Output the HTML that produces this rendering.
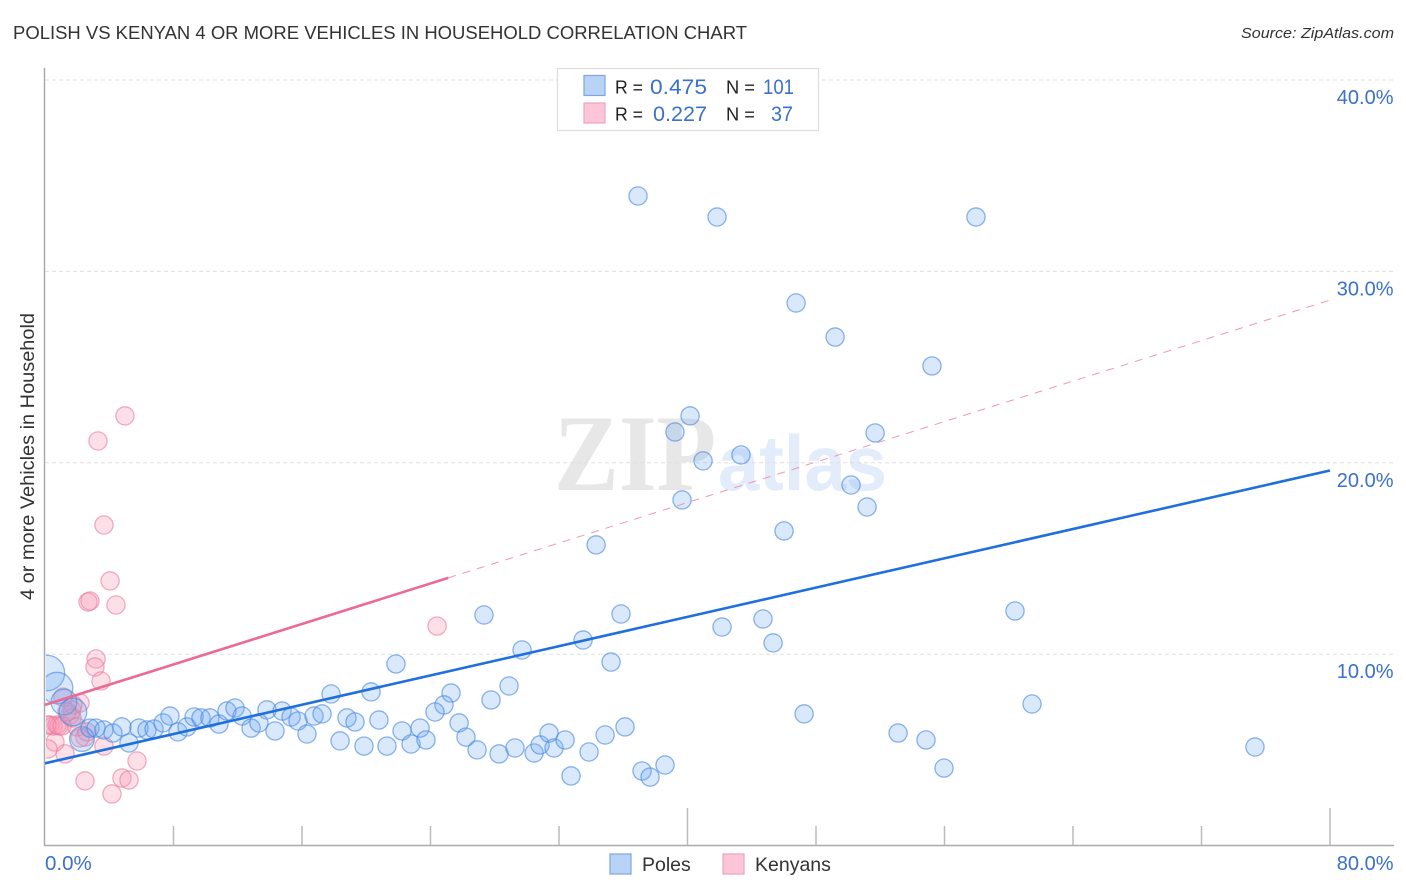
<!DOCTYPE html>
<html lang="en">
<head>
<meta charset="utf-8">
<title>Polish vs Kenyan 4 or More Vehicles in Household Correlation Chart</title>
<style>
html,body{margin:0;padding:0;background:#fff;}
svg{display:block;font-family:"Liberation Sans",sans-serif;}
</style>
</head>
<body>
<svg id="chart" width="1406" height="892" viewBox="0 0 1406 892" xmlns="http://www.w3.org/2000/svg">
  <defs>
    <clipPath id="plot-clip"><rect x="46" y="60" width="1348" height="785"></rect></clipPath>
    <filter id="soft" x="-5%" y="-5%" width="110%" height="110%"><feGaussianBlur stdDeviation="0.35"></feGaussianBlur></filter>
  </defs>
  <text x="13" y="39" font-size="18.5" fill="#333" textLength="734" lengthAdjust="spacingAndGlyphs">POLISH VS KENYAN 4 OR MORE VEHICLES IN HOUSEHOLD CORRELATION CHART</text>
  <text x="1394" y="38" font-size="15" font-style="italic" fill="#333" text-anchor="end" textLength="153" lengthAdjust="spacingAndGlyphs">Source: ZipAtlas.com</text>

  <g>
    <text x="554" y="490" font-family="'Liberation Serif',serif" font-weight="bold" font-size="109" fill="#e7e7e7" textLength="162" lengthAdjust="spacingAndGlyphs">ZIP</text>
    <text x="718" y="490" font-size="78" font-weight="bold" fill="#e2ecfa" textLength="169" lengthAdjust="spacingAndGlyphs">atlas</text>
  </g>

  <g id="grid"></g>
  <g id="axes"></g>
  <g id="points" clip-path="url(#plot-clip)" filter="url(#soft)"></g>
  <g id="trends"></g>
  <g id="labels"></g>

  <text transform="translate(34,456.5) rotate(-90)" font-size="19.5" fill="#333" text-anchor="middle" textLength="287" lengthAdjust="spacingAndGlyphs">4 or more Vehicles in Household</text>

  <g>
    <rect x="557.5" y="68.5" width="261" height="62" fill="#fff" stroke="#ddd" stroke-width="1.2"></rect>
    <rect x="584" y="75.5" width="21" height="20" fill="#b9d3f7" stroke="#7da6e3" stroke-width="1.2"></rect>
    <rect x="584" y="103" width="21" height="20" fill="#fcc6d8" stroke="#f0a3bb" stroke-width="1.2"></rect>
    <text x="615" y="93.5" font-size="18.5" fill="#222" textLength="28" lengthAdjust="spacingAndGlyphs">R =</text>
    <text x="650" y="94" font-size="21.5" fill="#3b70cc" textLength="57" lengthAdjust="spacingAndGlyphs">0.475</text>
    <text x="726" y="93.5" font-size="18.5" fill="#222" textLength="29" lengthAdjust="spacingAndGlyphs">N =</text>
    <text x="763" y="94" font-size="21.5" fill="#3b70cc" textLength="31" lengthAdjust="spacingAndGlyphs">101</text>
    <text x="615" y="120.5" font-size="18.5" fill="#222" textLength="28" lengthAdjust="spacingAndGlyphs">R =</text>
    <text x="653" y="121" font-size="21.5" fill="#3b70cc" textLength="54" lengthAdjust="spacingAndGlyphs">0.227</text>
    <text x="726" y="120.5" font-size="18.5" fill="#222" textLength="29" lengthAdjust="spacingAndGlyphs">N =</text>
    <text x="771" y="121" font-size="21.5" fill="#3b70cc" textLength="22" lengthAdjust="spacingAndGlyphs">37</text>
  </g>

  <g>
    <rect x="610" y="854" width="21" height="20" fill="#b9d3f7" stroke="#7da6e3" stroke-width="1.2"></rect>
    <text x="642" y="871" font-size="19.5" fill="#333">Poles</text>
    <rect x="723" y="854" width="21" height="20" fill="#fcc6d8" stroke="#f0a3bb" stroke-width="1.2"></rect>
    <text x="755" y="871" font-size="19.5" fill="#333">Kenyans</text>
  </g>
</svg>
<script>
const xTickValues = [0, 8, 16, 24, 32, 40, 48, 56, 64, 72, 80];
const majorXTicks = [40, 80];
const xEdgeLabels = ["0.0%", "80.0%"];
const yTickValues = [10, 20, 30, 40];
const yTickLabels = ["10.0%", "20.0%", "30.0%", "40.0%"];

const polesX = [0.12,0.75,1.18,1.74,2.30,2.80,3.18,3.67,4.23,4.79,5.23,5.85,6.35,6.79,
7.35,7.78,8.28,8.84,9.28,9.71,10.27,10.83,11.33,11.83,12.27,12.83,13.32,13.82,14.32,14.76,15.32,15.75,16.31,16.75,17.25,17.81,18.80,19.30,
36.92,41.84,57.96,46.76,49.19,55.22,40.16,39.22,51.68,43.33,40.97,50.18,39.66,51.18,46.01,34.31,27.33,35.86,60.39,42.15,44.70,33.50,45.33,29.70,35.24,21.85,47.26,61.45,53.11,54.85,55.97,75.33,
28.89,27.77,25.28,24.84,24.28,20.30,20.79,18.37,19.86,21.29,22.23,23.35,22.79,23.72,25.78,26.21,26.90,28.27,29.26,30.45,30.82,31.38,31.69,32.38,32.75,33.87,34.87,36.11,37.17,37.67,38.60];
const polesY = [9.02,8.23,7.50,6.98,5.57,6.14,6.14,6.04,5.88,6.20,5.36,6.14,6.04,6.09,
6.41,6.77,5.94,6.20,6.72,6.67,6.67,6.35,7.03,7.19,6.77,6.14,6.41,7.09,5.99,7.03,6.72,6.51,5.83,6.77,6.88,7.92,6.67,6.46,
33.94,32.84,32.84,28.35,26.57,25.06,22.45,21.61,21.56,20.41,20.10,18.84,18.06,17.69,16.44,15.71,12.05,12.10,12.26,11.42,11.84,10.74,10.59,10.22,9.59,9.49,6.88,7.40,5.88,5.52,4.05,5.15,
8.34,7.61,7.97,7.35,6.98,8.03,6.56,5.47,5.20,5.20,5.99,6.14,5.31,5.52,6.41,5.67,5.00,4.79,5.10,4.84,5.26,5.88,5.10,5.52,3.64,4.89,5.78,6.20,3.90,3.58,4.21];
const polesWeight = [3.8,3.0,2.0,2.3,1.85];

const kenyansX = [4.98,3.30,3.67,4.05,2.68,2.80,4.42,24.41,3.18,3.11,3.49,2.49,4.79,5.23,4.17,5.73,3.67,1.25,0.62,0.19,0.31,0.50,0.75,0.87,1.68,1.56,2.18,1.68,1.12,1.74,1.37,1.99,2.49,2.18,2.61,0.12,1.06];
const kenyansY = [22.45,21.14,16.75,13.83,12.73,12.78,12.57,11.47,9.75,9.33,8.60,3.38,3.53,3.43,2.70,4.42,5.20,4.79,5.41,5.05,6.30,6.25,6.30,6.25,7.09,6.82,7.45,6.67,7.76,7.35,6.98,6.20,5.67,5.62,5.94,6.30,6.25];

const polesTrend = [4.3, 19.6];
const kenyansTrend = [7.35, 28.5];
const trendDomain = [0, 80];
const kenyansSolidEnd = 25.1;

const SVG_NS = "http://www.w3.org/2000/svg";
const xScale = v => 45 + v * (1330 - 45) / 80;
const yScale = v => 845.6 - v * (845.6 - 80) / 40;
const trendAt = (t, x) => t[0] + (t[1] - t[0]) * (x - trendDomain[0]) / (trendDomain[1] - trendDomain[0]);

function make(tag, parentId, attrs) {
  const el = document.createElementNS(SVG_NS, tag);
  for (const k in attrs) el.setAttribute(k, attrs[k]);
  document.getElementById(parentId).appendChild(el);
  return el;
}

yTickValues.forEach(v => {
  const el = make("line", "grid", {x1: 45, x2: 1394, y1: yScale(v), y2: yScale(v), stroke: "#e0e0e0", "stroke-width": 1, "stroke-dasharray": "4 3"});
  
  
});

const yAxis = make("line", "axes", {x1: 44.5, x2: 44.5, y1: 68, y2: 846, stroke: "#aaa", "stroke-width": 1.5});


const xAxis = make("line", "axes", {x1: 44, x2: 1394, y1: 845.5, y2: 845.5, stroke: "#aaa", "stroke-width": 1.5});



xTickValues.forEach(v => {
  if (v === 0) return;
  const top = majorXTicks.includes(v) ? 808 : 826;
  const el = make("line", "axes", {x1: xScale(v), x2: xScale(v), y1: top, y2: 845, stroke: "#bbb", "stroke-width": 1.5});
  
  
});

function drawSeries(xs, ys, weights, fill, stroke, name) {
  xs.forEach((x, i) => {
    const w = weights[i] ?? 1;
    const el = make("circle", "points", {cx: xScale(x), cy: yScale(ys[i]), r: 9.1 * Math.sqrt(w), fill: fill, stroke: stroke, "stroke-width": 1.3});
    
    
  });
}
drawSeries(kenyansX, kenyansY, [], "rgba(248,150,180,0.30)", "rgba(232,125,160,0.62)", "kenyans-point");
drawSeries(polesX, polesY, polesWeight, "rgba(110,165,240,0.26)", "rgba(70,135,222,0.62)", "poles-point");

const poleLine = make("line", "trends", {x1: xScale(trendDomain[0]), y1: yScale(trendAt(polesTrend, trendDomain[0])), x2: xScale(trendDomain[1]), y2: yScale(trendAt(polesTrend, trendDomain[1])), stroke: "#1f6fdc", "stroke-width": 2.6});


const kenDash = make("line", "trends", {x1: xScale(kenyansSolidEnd), y1: yScale(trendAt(kenyansTrend, kenyansSolidEnd)), x2: xScale(trendDomain[1]), y2: yScale(trendAt(kenyansTrend, trendDomain[1])), stroke: "#eb9ab3", "stroke-width": 1, "stroke-dasharray": "8 7"});


const kenLine = make("line", "trends", {x1: xScale(trendDomain[0]), y1: yScale(trendAt(kenyansTrend, trendDomain[0])), x2: xScale(kenyansSolidEnd), y2: yScale(trendAt(kenyansTrend, kenyansSolidEnd)), stroke: "#ec6a95", "stroke-width": 2.6});



yTickLabels.forEach((t, i) => {
  const el = make("text", "labels", {x: 1393.5, y: yScale(yTickValues[i]) + 24, "font-size": 20, fill: "#3b70cc", "text-anchor": "end"});
  el.textContent = t;
  
  
});
const xStart = make("text", "labels", {x: 45, y: 870, "font-size": 20.5, fill: "#3b70cc"});
xStart.textContent = xEdgeLabels[0];


const xEnd = make("text", "labels", {x: 1393.5, y: 870, "font-size": 20, fill: "#3b70cc", "text-anchor": "end"});
xEnd.textContent = xEdgeLabels[1];


</script>
</body>
</html>
